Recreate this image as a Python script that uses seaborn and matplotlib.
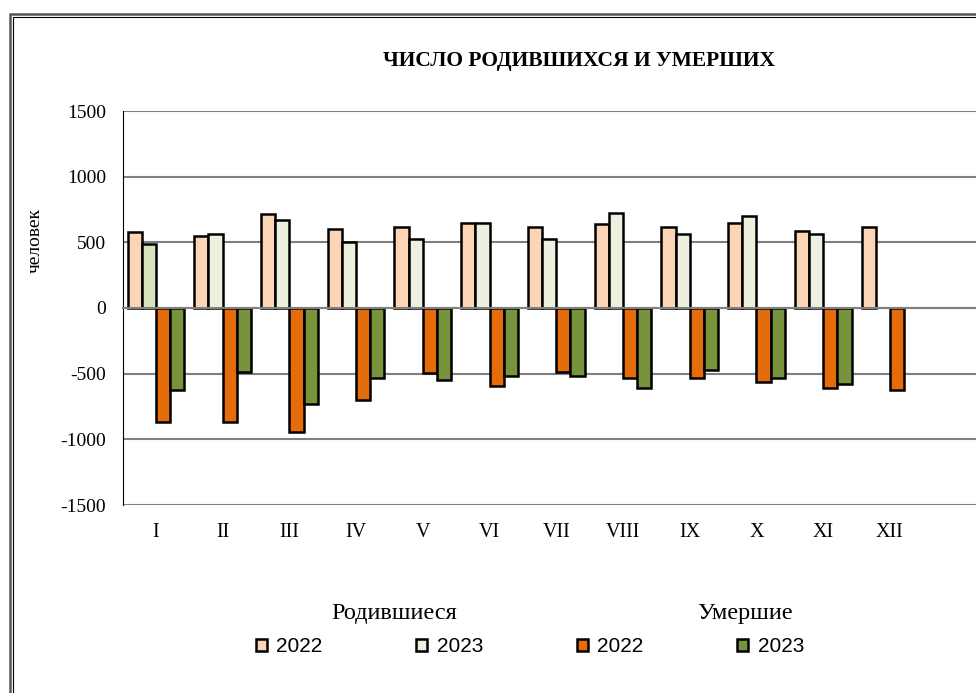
import matplotlib
matplotlib.use('Agg')
import matplotlib.pyplot as plt
import numpy as np
import pandas as pd
import seaborn as sns
from matplotlib.patches import Patch, Rectangle

# data
months = ['I', 'II', 'III', 'IV', 'V', 'VI', 'VII', 'VIII', 'IX', 'X', 'XI', 'XII']
born_2022 = [575, 545, 712, 605, 620, 650, 620, 640, 620, 650, 590, 620]
born_2023 = [485, 560, 667, 500, 528, 650, 528, 727, 560, 697, 560, np.nan]
died_2022 = [-868, -868, -944, -700, -497, -596, -490, -533, -533, -563, -608, -624]
died_2023 = [-624, -487, -732, -533, -548, -520, -520, -611, -475, -533, -578, np.nan]

series = ['born_2022', 'born_2023', 'died_2022', 'died_2023']
legend_labels = ['2022', '2023', '2022', '2023']
colors = ['#FCD5B5', '#EBF1DE', '#E46C0A', '#77933C']

df = pd.DataFrame({
    'month': months * 4,
    'series': [s for s in series for _ in months],
    'value': born_2022 + born_2023 + died_2022 + died_2023,
})

sns.set_style('white')
plt.rcParams['font.family'] = ['Liberation Serif', 'DejaVu Serif']
plt.rcParams['axes.unicode_minus'] = False
plt.rcParams['text.color'] = 'black'
plt.rcParams['xtick.color'] = 'black'
plt.rcParams['ytick.color'] = 'black'

W, H = 976, 693
fig = plt.figure(figsize=(W / 100, H / 100), dpi=100)
ax = fig.add_axes([122.5 / W, (H - 505) / H, 1 - 122.5 / W, (505 - 111) / H])

sns.barplot(data=df, x='month', y='value', hue='series', hue_order=series,
            palette=dict(zip(series, colors)), saturation=1, width=0.85,
            edgecolor='black', linewidth=1.8, errorbar=None, legend=False, ax=ax)

# January 2023 births bar is a touch darker in the original
ax.containers[1][0].set_facecolor('#D7E4BD')

ax.set_ylim(-1500, 1500)
ax.set_xlim(-0.5, 12.29)
ax.set_yticks(range(-1500, 1501, 500))
ax.yaxis.grid(True, color='#808080', linewidth=1.5)
ax.set_axisbelow(True)
ax.set_xlabel('')
ax.set_ylabel('')

for s in ['top', 'right']:
    ax.spines[s].set_visible(False)
ax.spines['left'].set_color('black')
ax.spines['left'].set_linewidth(0.8)
ax.spines['bottom'].set_position(('data', 0))
ax.spines['bottom'].set_color('#808080')
ax.spines['bottom'].set_linewidth(1.5)

ax.set_xticks(np.arange(0.5, 12, 1), minor=True)
ax.tick_params(axis='x', which='minor', length=4, width=1, color='#606060', direction='out')
ax.tick_params(axis='x', which='major', length=0, pad=155, labelsize=14.5)
ax.tick_params(axis='y', length=4.3, width=0.8, color='black', direction='out', pad=7.5, labelsize=14)

fig.text(579 / W, 1 - 61 / H, 'ЧИСЛО РОДИВШИХСЯ И УМЕРШИХ', ha='center', va='center',
         fontsize=15.5, fontweight='bold')
fig.text(35 / W, 1 - 241 / H, 'человек', rotation=90, ha='center', va='center', fontsize=14)

# legend: group titles plus one row of four entries
fig.text(394.5 / W, 1 - 613 / H, 'Родившиеся', ha='center', va='center', fontsize=17.5)
fig.text(745.5 / W, 1 - 614 / H, 'Умершие', ha='center', va='center', fontsize=17.5)
handles = [Patch(facecolor=c, edgecolor='black', linewidth=1.8) for c in colors]
fig.legend(handles, legend_labels, loc='center left', bbox_to_anchor=(256 / W, 1 - 647 / H),
           ncol=4, frameon=False, borderpad=0, borderaxespad=0,
           handlelength=0.53, handleheight=0.5, handletextpad=0.45, columnspacing=4.5,
           prop={'family': 'Liberation Sans', 'size': 15})

# double frame around the chart (runs off the right and bottom edges)
fig.patches.append(Rectangle((9.5 / W, -0.2), 1.3, 1.2 - 13.5 / H, transform=fig.transFigure,
                             fill=False, edgecolor='#555555', linewidth=1.8))
fig.patches.append(Rectangle((12.8 / W, -0.2), 1.3, 1.2 - 16.8 / H, transform=fig.transFigure,
                             fill=False, edgecolor='black', linewidth=0.8))

fig.savefig('out.png', dpi=100)
